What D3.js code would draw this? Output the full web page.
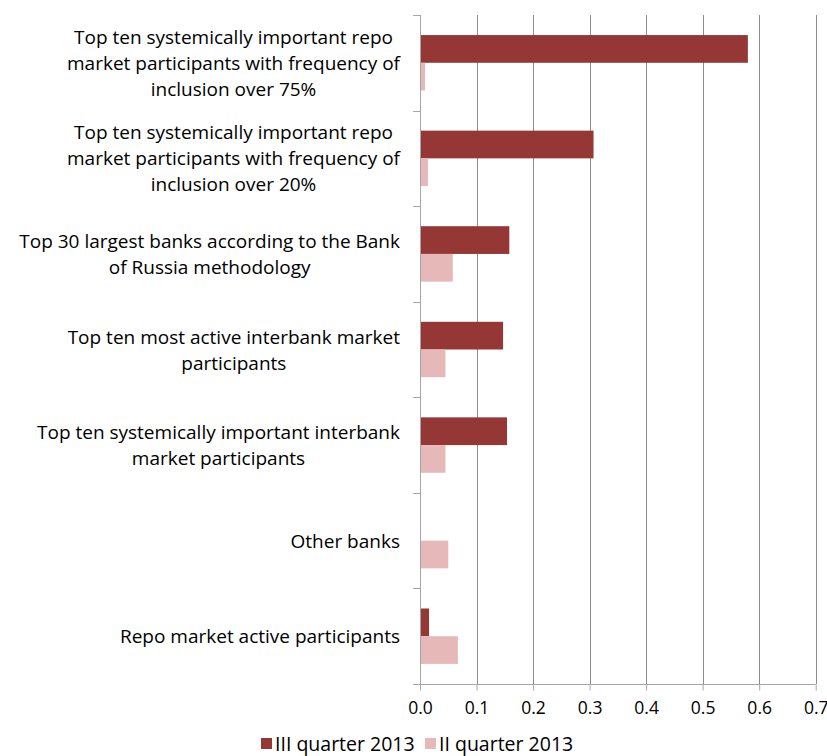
<!DOCTYPE html>
<html><head><meta charset="utf-8">
<script src="https://cdn.jsdelivr.net/npm/d3@7"></script>
<style>body{margin:0;background:#fff}svg{display:block}text{font-family:"Open Sans",sans-serif;fill:#000}</style>
</head><body><svg id="c" width="827" height="756"></svg>
<script>
const categories = [
  ["Top ten systemically important repo","market participants with frequency of","inclusion over 75%"],
  ["Top ten systemically important repo","market participants with frequency of","inclusion over 20%"],
  ["Top 30 largest banks according to the Bank","of Russia methodology"],
  ["Top ten most active interbank market","participants"],
  ["Top ten systemically important interbank","market participants"],
  ["Other banks"],
  ["Repo market active participants"]
];
const seriesNames = ["III quarter 2013","II quarter 2013"];
const q3 = [0.580, 0.307, 0.158, 0.147, 0.154, 0, 0.016];
const q2 = [0.009, 0.014, 0.058, 0.045, 0.045, 0.050, 0.067];
const ticks = [0,0.1,0.2,0.3,0.4,0.5,0.6,0.7];
const colors = ["#953735","#E6B9B8"];

const svg = d3.select("#c");
const L = 420, R = 815.7, T = 15, B = 684;
const x = d3.scaleLinear().domain([0,0.7]).range([L,R]);
const idx = d3.range(categories.length);
const y = d3.scaleBand().domain(idx).range([T,B]).paddingInner(0.42).paddingOuter(0.21);
const sub = d3.scaleBand().domain([0,1]).range([0,y.bandwidth()]);
const step = y.step();

// gridlines
svg.append("g").selectAll("line").data(ticks.slice(1)).join("line")
  .attr("x1",d=>Math.round(x(d))+0.5).attr("x2",d=>Math.round(x(d))+0.5)
  .attr("y1",T).attr("y2",B).attr("stroke","#8c8c8c").attr("stroke-width",1);

// bars
const series = [q3,q2];
series.forEach((vals,si)=>{
  svg.append("g").selectAll("rect").data(vals).join("rect")
    .attr("x",x(0)).attr("width",d=>x(d)-x(0))
    .attr("y",(d,i)=>y(i)+sub(si)).attr("height",sub.bandwidth())
    .attr("fill",colors[si]);
});

// y axis line + category ticks
svg.append("line").attr("x1",L+0.5).attr("x2",L+0.5).attr("y1",T).attr("y2",B)
  .attr("stroke","#a6a6a6");
svg.append("g").selectAll("line").data(d3.range(categories.length+1)).join("line")
  .attr("x1",L-7).attr("x2",L).attr("y1",d=>Math.round(T+d*step)+0.5).attr("y2",d=>Math.round(T+d*step)+0.5)
  .attr("stroke","#a6a6a6");

// x axis
const xa = d3.axisBottom(x).tickValues(ticks).tickFormat(d3.format(".1f")).tickSize(6).tickPadding(11);
const gx = svg.append("g").attr("transform",`translate(0,${B+0.5})`).call(xa);
gx.select(".domain").attr("stroke","#a6a6a6").attr("d",`M${L-7},0H${R}`);
gx.selectAll(".tick line").attr("stroke","#a6a6a6");
gx.selectAll(".tick text").style("font-size","17.5px").style("font-family","'Open Sans',sans-serif").attr("fill","#000");

// category labels
const lh = 26;
categories.forEach((lines,i)=>{
  const cy = T + (i+0.5)*step;
  const g = svg.append("g");
  const ts = lines.map((t,j)=> g.append("text").text(t).style("font-size","19px")
    .attr("text-anchor","middle").attr("dominant-baseline","central")
    .attr("y", cy + (j-(lines.length-1)/2)*lh));
  const maxW = d3.max(ts,t=>t.node().getComputedTextLength());
  ts.forEach(t=>t.attr("x", 400 - maxW/2));
});

// legend
const lg = svg.append("g");
const legX = [261, 425];
seriesNames.forEach((n,i)=>{
  lg.append("rect").attr("x",legX[i]).attr("y",738).attr("width",11).attr("height",11).attr("fill",colors[i]);
  lg.append("text").attr("x",legX[i]+14).attr("y",743.5).attr("dominant-baseline","central")
    .style("font-size","19.5px").text(n);
});
</script></body></html>
